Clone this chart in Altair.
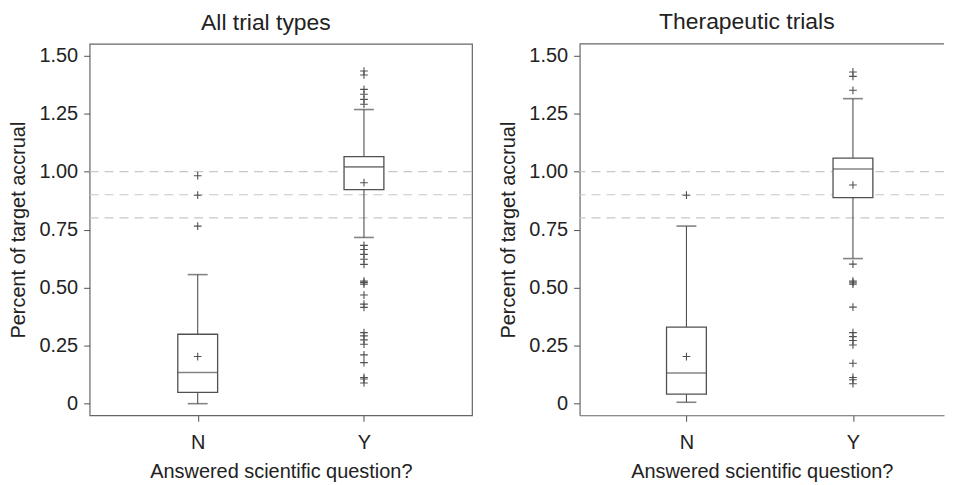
import altair as alt
import pandas as pd

# ---- data ----
panels = ["All trial types", "Therapeutic trials"]
categories = ["N", "Y"]
positions = [1, 2]

# summary statistics per panel / category: [N, Y]
q1 = {"All trial types": [0.049, 0.922], "Therapeutic trials": [0.041, 0.888]}
median = {"All trial types": [0.134, 1.020], "Therapeutic trials": [0.132, 1.011]}
q3 = {"All trial types": [0.299, 1.064], "Therapeutic trials": [0.330, 1.058]}
whisker_lo = {"All trial types": [0.0, 0.716], "Therapeutic trials": [0.006, 0.625]}
whisker_hi = {"All trial types": [0.556, 1.267], "Therapeutic trials": [0.765, 1.314]}
mean = {"All trial types": [0.203, 0.952], "Therapeutic trials": [0.203, 0.942]}

outliers_all_N = [0.982, 0.898, 0.765]
outliers_all_Y = [1.433, 1.416, 1.354, 1.333, 1.311, 1.290,
                  0.682, 0.664, 0.643, 0.622, 0.600, 0.528, 0.522, 0.515,
                  0.468, 0.429, 0.415, 0.306, 0.292, 0.275, 0.256, 0.210,
                  0.177, 0.113, 0.106, 0.089]
outliers_ther_N = [0.898]
outliers_ther_Y = [1.429, 1.410, 1.350,
                   0.601, 0.528, 0.521, 0.515, 0.416, 0.306, 0.289, 0.272,
                   0.253, 0.174, 0.113, 0.103, 0.086]

ref_lines = [0.8, 0.9, 1.0]
y_ticks = [0, 0.25, 0.5, 0.75, 1.0, 1.25, 1.5]

outliers = {
    "All trial types": [outliers_all_N, outliers_all_Y],
    "Therapeutic trials": [outliers_ther_N, outliers_ther_Y],
}

FONT = "Liberation Sans"
LINE = "#505050"
FRAME = "#666666"
TEXT = "#222222"
PLUS = "M-1,0H1M0,-1V1"
HEIGHT = 373


def panel(name, width, xdomain, full_frame):
    box = pd.DataFrame({
        "cat": categories, "pos": positions,
        "q1": q1[name], "med": median[name], "q3": q3[name],
        "lo": whisker_lo[name], "hi": whisker_hi[name], "mean": mean[name],
    })
    pts = pd.DataFrame(
        [{"cat": c, "pos": p, "v": v}
         for c, p, vals in zip(categories, positions, outliers[name]) for v in vals]
    )
    refs = pd.DataFrame({"r": ref_lines})

    xscale = alt.Scale(domain=xdomain, nice=False, zero=False)
    xaxis = alt.Axis(values=positions,
                     labelExpr="datum.value == 1 ? 'N' : 'Y'",
                     title="Answered scientific question?",
                     grid=False, domain=not full_frame, domainColor=FRAME,
                     domainWidth=1.2, tickSize=6,
                     labelPadding=11, titlePadding=9,
                     tickColor=LINE, labelFontSize=20,
                     titleFontSize=20, titleFontWeight="normal",
                     labelColor=TEXT, titleColor=TEXT,
                     labelFont=FONT, titleFont=FONT)
    xenc = alt.X("pos:Q", scale=xscale, axis=xaxis)
    yscale = alt.Scale(domain=[-0.05, 1.55], nice=False, zero=False)
    yaxis = alt.Axis(values=y_ticks,
                     labelExpr="datum.value == 0 ? '0' : format(datum.value, '.2f')",
                     title="Percent of target accrual",
                     grid=False, domain=not full_frame, domainColor=FRAME,
                     domainWidth=1.2, tickSize=6,
                     labelPadding=6, titlePadding=10,
                     tickColor=LINE, labelFontSize=20, titleFontSize=20,
                     titleFontWeight="normal", labelColor=TEXT, titleColor=TEXT,
                     labelFont=FONT, titleFont=FONT)

    base = alt.Chart(box)

    dashed = alt.Chart(refs).mark_rule(
        color="#c8c8c8", strokeDash=[9, 6], strokeWidth=1.2
    ).encode(y=alt.Y("r:Q", scale=yscale, axis=yaxis))

    whisk = base.mark_rule(color=LINE, strokeWidth=1.1).encode(
        x=xenc, y=alt.Y("lo:Q", scale=yscale, axis=yaxis), y2="hi:Q")

    boxes = base.mark_bar(size=40, fill="white", stroke=LINE, strokeWidth=1.3).encode(
        x=xenc, y=alt.Y("q1:Q", scale=yscale, axis=yaxis), y2="q3:Q")

    med = base.mark_tick(orient="horizontal", size=40, thickness=1.6, color=LINE).encode(
        x=xenc, y=alt.Y("med:Q", scale=yscale, axis=yaxis))

    cap_lo = base.mark_tick(orient="horizontal", size=20, thickness=1.6, color=LINE).encode(
        x=xenc, y=alt.Y("lo:Q", scale=yscale, axis=yaxis))
    cap_hi = base.mark_tick(orient="horizontal", size=20, thickness=1.6, color=LINE).encode(
        x=xenc, y=alt.Y("hi:Q", scale=yscale, axis=yaxis))

    mean_pt = base.mark_point(shape=PLUS, size=60, filled=False, color=LINE,
                              strokeWidth=1.1, opacity=1).encode(
        x=xenc, y=alt.Y("mean:Q", scale=yscale, axis=yaxis))

    out_pt = alt.Chart(pts).mark_point(shape=PLUS, size=60, filled=False, color=LINE,
                                       strokeWidth=1.1, opacity=1).encode(
        x=xenc, y=alt.Y("v:Q", scale=yscale, axis=yaxis))

    layers = [dashed, whisk, boxes, med, cap_lo, cap_hi, mean_pt, out_pt]

    title = alt.TitleParams(name, fontSize=23, fontWeight="normal", font=FONT,
                            color=TEXT, anchor="middle", frame="group",
                            dx=-15, offset=9)

    if full_frame:
        return alt.layer(*layers).properties(
            width=width, height=HEIGHT, title=title,
            view=alt.ViewBackground(stroke=FRAME, strokeWidth=1.2),
        )

    # frame cut off at the right edge of the figure: top border only as decoration
    top_border = alt.Chart(refs.head(1)).mark_rule(
        color=FRAME, strokeWidth=1.2
    ).encode(y=alt.value(0), x=alt.value(0), x2=alt.value(width))
    return alt.layer(*layers, top_border).properties(
        width=width, height=HEIGHT, title=title,
        view=alt.ViewBackground(strokeWidth=0, stroke="transparent"),
    )


left = panel(panels[0], 384, [0.38, 2.62], True)
right = panel(panels[1], 366, [0.388, 2.517], False)

chart = alt.hconcat(left, right, spacing=25).properties(
    padding={"left": 0, "top": 2, "right": 0, "bottom": 0}
).configure(background="white").configure_view(stroke=FRAME, strokeWidth=1.2)

chart.save("out.html", embed_options={"renderer": "svg", "actions": False})
